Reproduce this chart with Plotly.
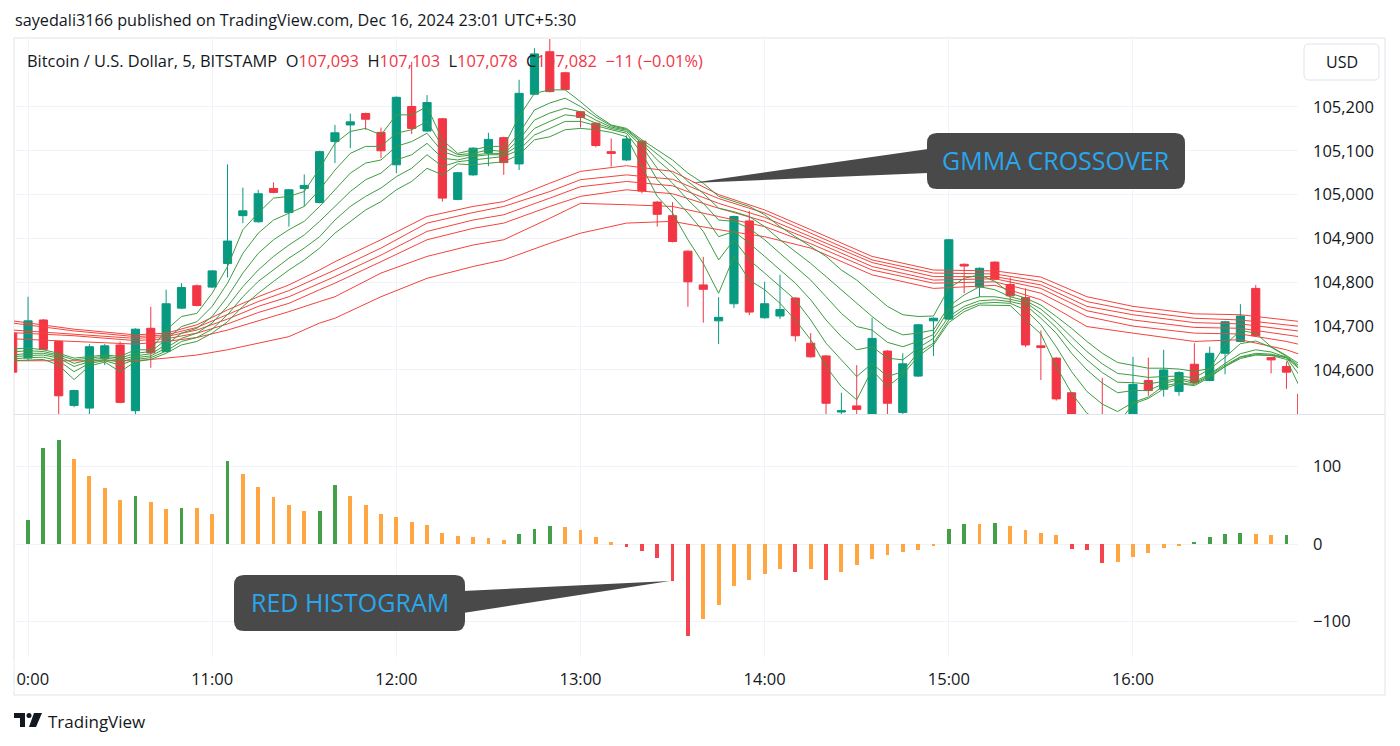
import plotly.graph_objects as go
import pandas as pd

# ---------------- data ----------------
times = pd.date_range("2024-12-16 09:55", periods=85, freq="5min")

open_p = [104684, 104627, 104714, 104665, 104519, 104513, 104627, 104657, 104507, 104695,
          104642, 104741, 104792, 104789, 104843, 104952, 104938, 105014, 104959, 105014,
          104982, 105121, 105159, 105185, 105142, 105068, 105201, 105145, 105173, 104989,
          105045, 105096, 105130, 105070, 105229, 105326, 105278, 105189, 105163, 105098,
          105079, 105122, 104983, 104952, 104871, 104794, 104712, 104751, 104940, 104719,
          104723, 104764, 104661, 104632, 104504, 104518, 104490, 104643, 104503, 104586,
          104712, 104716, 104841, 104789, 104846, 104795, 104765, 104655, 104627, 104548,
          104470, 104470, 104430, 104475, 104576, 104556, 104551, 104613, 104576, 104638,
          104665, 104786, 104628, 104608, 104545]
high_p = [104690, 104767, 104716, 104667, 104555, 104659, 104659, 104665, 104695, 104744,
          104783, 104798, 104795, 104828, 105069, 105016, 105011, 105028, 105013, 105046,
          105100, 105159, 105185, 105187, 105153, 105224, 105303, 105227, 105175, 105052,
          105108, 105141, 105132, 105262, 105334, 105370, 105280, 105191, 105165, 105128,
          105135, 105124, 104985, 104983, 104873, 104858, 104766, 104952, 104963, 104801,
          104817, 104766, 104684, 104634, 104548, 104611, 104719, 104645, 104638, 104705,
          104720, 104899, 104843, 104834, 104848, 104811, 104786, 104690, 104629, 104550,
          104490, 104582, 104490, 104630, 104628, 104646, 104597, 104661, 104653, 104712,
          104750, 104794, 104630, 104619, 104547]
low_p = [104590, 104622, 104645, 104495, 104515, 104498, 104611, 104524, 104498, 104605,
         104640, 104739, 104745, 104787, 104811, 104935, 104936, 105003, 104927, 104973,
         104980, 105072, 105106, 105148, 105083, 105049, 105138, 105143, 104984, 104987,
         105043, 105065, 105045, 105056, 105227, 105233, 105238, 105153, 105108, 105064,
         105077, 105003, 104927, 104891, 104744, 104708, 104659, 104741, 104725, 104717,
         104716, 104665, 104628, 104495, 104495, 104495, 104485, 104490, 104498, 104584,
         104632, 104714, 104775, 104766, 104805, 104753, 104652, 104577, 104530, 104460,
         104420, 104410, 104410, 104470, 104541, 104539, 104541, 104569, 104574, 104590,
         104663, 104676, 104592, 104557, 104470]
close_p = [104595, 104712, 104647, 104541, 104553, 104653, 104655, 104526, 104693, 104639,
           104751, 104788, 104747, 104826, 104894, 104963, 105002, 105005, 105011, 105021,
           105098, 105141, 105166, 105172, 105100, 105222, 105151, 105210, 104992, 105050,
           105106, 105126, 105073, 105231, 105321, 105235, 105240, 105176, 105112, 105094,
           105127, 105008, 104955, 104893, 104801, 104784, 104720, 104950, 104732, 104751,
           104738, 104678, 104630, 104524, 104507, 104510, 104672, 104524, 104614, 104703,
           104718, 104897, 104837, 104832, 104807, 104769, 104657, 104651, 104534, 104470,
           104440, 104430, 104470, 104567, 104553, 104600, 104594, 104571, 104638, 104710,
           104723, 104678, 104623, 104595, 104480]

# short-term GMMA ribbon (green), listed top to bottom, one value per bar
gmma_short_1 = [104648, 104650, 104646, 104638, 104627, 104631, 104634, 104631, 104646, 104646,
                104691, 104722, 104729, 104775, 104836, 104920, 104958, 104992, 104996, 105007,
                105060, 105117, 105144, 105151, 105136, 105182, 105182, 105201, 105125, 105094,
                105102, 105110, 105110, 105178, 105231, 105239, 105239, 105212, 105182, 105159,
                105151, 105125, 105102, 105079, 105049, 105026, 104996, 104984, 104973, 104954,
                104927, 104904, 104882, 104859, 104828, 104805, 104775, 104745, 104726, 104722,
                104723, 104786, 104809, 104817, 104802, 104775, 104764, 104748, 104722, 104695,
                104665, 104638, 104617, 104611, 104604, 104604, 104602, 104597, 104603, 104657,
                104690, 104684, 104653, 104633, 104610]
gmma_short_2 = [104641, 104644, 104642, 104634, 104623, 104627, 104631, 104627, 104638, 104642,
                104669, 104699, 104710, 104745, 104798, 104866, 104912, 104942, 104958, 104973,
                105011, 105056, 105094, 105110, 105110, 105140, 105148, 105167, 105110, 105091,
                105094, 105102, 105098, 105140, 105193, 105209, 105220, 105201, 105177, 105157,
                105149, 105121, 105091, 105064, 105030, 105003, 104969, 104961, 104950, 104927,
                104897, 104870, 104843, 104813, 104783, 104752, 104722, 104695, 104680, 104684,
                104691, 104745, 104771, 104790, 104783, 104767, 104758, 104739, 104709, 104675,
                104642, 104614, 104592, 104588, 104583, 104585, 104586, 104582, 104602, 104629,
                104660, 104666, 104652, 104631, 104605]
gmma_short_3 = [104634, 104638, 104638, 104631, 104615, 104623, 104627, 104623, 104632, 104637,
                104657, 104684, 104695, 104722, 104767, 104821, 104866, 104897, 104920, 104939,
                104973, 105011, 105049, 105072, 105079, 105110, 105121, 105140, 105098, 105087,
                105091, 105094, 105094, 105125, 105170, 105186, 105197, 105189, 105170, 105154,
                105147, 105117, 105079, 105049, 105011, 104980, 104942, 104939, 104923, 104897,
                104866, 104836, 104805, 104767, 104729, 104699, 104691, 104663, 104653, 104665,
                104681, 104737, 104756, 104767, 104767, 104761, 104754, 104729, 104697, 104657,
                104623, 104594, 104572, 104571, 104568, 104574, 104581, 104574, 104590, 104615,
                104637, 104646, 104641, 104629, 104601]
gmma_short_4 = [104630, 104633, 104634, 104627, 104608, 104619, 104624, 104618, 104628, 104632,
                104650, 104672, 104684, 104707, 104745, 104790, 104828, 104859, 104885, 104908,
                104939, 104973, 105007, 105034, 105049, 105079, 105091, 105117, 105083, 105079,
                105087, 105091, 105091, 105113, 105151, 105167, 105182, 105178, 105163, 105151,
                105144, 105110, 105060, 105026, 104988, 104954, 104904, 104916, 104889, 104859,
                104828, 104798, 104760, 104714, 104676, 104646, 104653, 104627, 104623, 104650,
                104672, 104722, 104745, 104758, 104760, 104756, 104748, 104718, 104684, 104638,
                104600, 104570, 104548, 104553, 104553, 104569, 104578, 104569, 104589, 104611,
                104630, 104638, 104636, 104628, 104597]
gmma_short_5 = [104625, 104628, 104629, 104621, 104596, 104615, 104621, 104611, 104624, 104628,
                104643, 104665, 104674, 104693, 104726, 104767, 104802, 104828, 104855, 104878,
                104904, 104942, 104973, 104996, 105015, 105041, 105060, 105091, 105064, 105075,
                105079, 105083, 105087, 105102, 105136, 105151, 105167, 105167, 105157, 105148,
                105140, 105094, 105034, 104996, 104958, 104916, 104851, 104897, 104851, 104821,
                104790, 104760, 104714, 104661, 104623, 104585, 104615, 104585, 104596, 104640,
                104661, 104714, 104739, 104752, 104754, 104752, 104737, 104703, 104653, 104596,
                104551, 104522, 104505, 104526, 104538, 104564, 104570, 104567, 104586, 104608,
                104629, 104635, 104634, 104628, 104581]
gmma_short_6 = [104621, 104623, 104624, 104611, 104578, 104609, 104618, 104596, 104619, 104624,
                104638, 104657, 104665, 104684, 104710, 104745, 104775, 104802, 104828, 104851,
                104878, 104912, 104939, 104965, 104984, 105011, 105030, 105060, 105045, 105070,
                105068, 105072, 105075, 105091, 105125, 105132, 105148, 105151, 105148, 105142,
                105132, 105064, 104996, 104958, 104897, 104843, 104775, 104859, 104805, 104783,
                104752, 104714, 104669, 104608, 104562, 104532, 104600, 104562, 104589, 104631,
                104657, 104708, 104733, 104748, 104748, 104747, 104714, 104682, 104608, 104547,
                104501, 104482, 104477, 104522, 104535, 104557, 104569, 104564, 104583, 104608,
                104626, 104634, 104633, 104624, 104551]

# long-term GMMA ribbon (red), read at these bar numbers, listed top to bottom
long_bars = [0, 4, 8, 10, 12, 14, 16, 18, 20, 21, 24, 27, 30, 32, 35, 37, 40, 43, 46, 49,
             52, 56, 60, 64, 67, 70, 73, 77, 80, 83, 84]
gmma_long_1 = [104712, 104693, 104680, 104684, 104703, 104737, 104767, 104794, 104828, 104847,
               104897, 104950, 104973, 104984, 105026, 105053, 105066, 105053, 105000, 104965,
               104920, 104859, 104828, 104826, 104812, 104767, 104745, 104728, 104726, 104714, 104710]
gmma_long_2 = [104707, 104689, 104676, 104680, 104697, 104727, 104756, 104781, 104813, 104828,
               104878, 104935, 104959, 104973, 105007, 105034, 105045, 105035, 104991, 104958,
               104912, 104851, 104821, 104819, 104802, 104756, 104735, 104718, 104714, 104703, 104699]
gmma_long_3 = [104691, 104682, 104672, 104676, 104691, 104716, 104745, 104767, 104798, 104813,
               104862, 104916, 104942, 104954, 104992, 105018, 105030, 105020, 104980, 104948,
               104904, 104845, 104813, 104813, 104794, 104745, 104726, 104708, 104705, 104691, 104688]
gmma_long_4 = [104685, 104678, 104667, 104671, 104684, 104705, 104731, 104752, 104783, 104798,
               104847, 104897, 104923, 104935, 104973, 104996, 105011, 105002, 104969, 104939,
               104897, 104836, 104805, 104808, 104786, 104735, 104714, 104697, 104695, 104680, 104675]
gmma_long_5 = [104671, 104665, 104659, 104665, 104674, 104691, 104712, 104733, 104756, 104767,
               104821, 104859, 104885, 104897, 104946, 104980, 104977, 104973, 104950, 104927,
               104888, 104828, 104798, 104801, 104775, 104722, 104700, 104684, 104682, 104665, 104657]
gmma_long_6 = [104621, 104621, 104621, 104627, 104634, 104646, 104661, 104676, 104707, 104718,
               104767, 104809, 104836, 104851, 104889, 104912, 104935, 104939, 104920, 104904,
               104878, 104817, 104786, 104793, 104760, 104699, 104684, 104665, 104669, 104646, 104634]

# oscillator histogram, bars 1..83
hist_vals = [31.4, 123.9, 134.6, 109.7, 88.2, 72.3, 57.2, 62.4, 53.8, 45.6,
             46.5, 46.0, 39.1, 107.5, 90.8, 73.1, 60.2, 50.8, 42.2, 42.8,
             76.6, 62.4, 50.3, 39.1, 34.4, 28.4, 24.9, 14.2, 10.8, 9.5,
             7.3, 5.6, 12.9, 18.9, 23.7, 22.4, 17.6, 9.5, 2.2, -3.9,
             -9.5, -18.1, -48.2, -119.1, -96.3, -79.1, -54.6, -46.5, -39.1, -32.3,
             -36.6, -32.7, -46.0, -36.6, -27.5, -19.8, -14.6, -10.8, -7.3, -3.0,
             19.8, 26.2, 25.8, 27.1, 23.7, 18.5, 14.6, 11.2, -6.0, -7.3,
             -24.5, -23.2, -16.8, -12.0, -4.7, -1.7, 2.6, 9.0, 12.5, 13.8,
             12.5, 11.2, 11.5]
hist_times = times[1:84]

price_ticks = [104600, 104700, 104800, 104900, 105000, 105100, 105200]
hist_ticks = [-100, 0, 100]
hour_ticks = pd.date_range("2024-12-16 10:00", "2024-12-16 16:00", freq="1h")

# ---------------- styles ----------------
UP, DOWN = "#089981", "#f23645"
GREEN_LINE, RED_LINE = "#3f9c41", "#f4433c"
H_GREEN, H_ORANGE, H_RED = "#43a047", "#ffa641", "#f5444e"
GRID = "#f0f3fa"
TXT = "#131722"
FONT = "Open Sans"
W, H = 1400, 746


def px(x):
    return x / W


def py(y):
    return 1 - y / H


hist_colors = []
prev = None
for v in hist_vals:
    rising = prev is None or v >= prev
    if rising:
        hist_colors.append(H_GREEN if v > 0 else H_ORANGE)
    else:
        hist_colors.append(H_ORANGE if v > 0 else H_RED)
    prev = v

fig = go.Figure()

fig.add_trace(go.Candlestick(
    x=times, open=open_p, high=high_p, low=low_p, close=close_p,
    increasing=dict(line=dict(color=UP, width=1), fillcolor=UP),
    decreasing=dict(line=dict(color=DOWN, width=1), fillcolor=DOWN),
    whiskerwidth=0, xaxis="x", yaxis="y", showlegend=False, hoverinfo="skip"))

long_times = [times[i] for i in long_bars]
for series in [gmma_long_1, gmma_long_2, gmma_long_3, gmma_long_4, gmma_long_5, gmma_long_6]:
    fig.add_trace(go.Scatter(x=long_times, y=series, mode="lines",
                             line=dict(color=RED_LINE, width=1), xaxis="x", yaxis="y",
                             showlegend=False, hoverinfo="skip"))
for series in [gmma_short_1, gmma_short_2, gmma_short_3, gmma_short_4, gmma_short_5, gmma_short_6]:
    fig.add_trace(go.Scatter(x=times, y=series, mode="lines",
                             line=dict(color=GREEN_LINE, width=1), xaxis="x", yaxis="y",
                             showlegend=False, hoverinfo="skip"))

fig.add_trace(go.Bar(x=hist_times, y=hist_vals, marker=dict(color=hist_colors, line=dict(width=0)),
                     width=75000, xaxis="x2", yaxis="y2", showlegend=False, hoverinfo="skip"))

x_range = [pd.Timestamp("2024-12-16 09:55:26"), pd.Timestamp("2024-12-16 16:53:46")]
x_dom = [px(14), px(1298)]

fig.update_layout(
    width=W, height=H, margin=dict(l=0, r=0, t=0, b=0, autoexpand=False),
    paper_bgcolor="white", plot_bgcolor="white", showlegend=False,
    font=dict(family=FONT, color=TXT, size=14),
    boxgap=0.24, bargap=0,
    xaxis=dict(domain=x_dom, anchor="y", range=x_range, type="date", automargin=False,
               showticklabels=False, tickvals=hour_ticks, showgrid=True, gridcolor=GRID,
               zeroline=False, rangeslider=dict(visible=False), showline=False, fixedrange=True),
    xaxis2=dict(domain=x_dom, anchor="y2", matches="x", range=x_range, type="date", automargin=False,
                tickvals=hour_ticks, tickformat="%H:%M", showgrid=True, gridcolor=GRID,
                zeroline=False, showline=False, ticks="", ticklabelstandoff=10,
                tickfont=dict(size=16.5, color=TXT)),
    yaxis=dict(domain=[py(414), py(39)], anchor="x", side="right", range=[104499.5, 105355],
               automargin=False, tickvals=price_ticks, tickformat=",d", showgrid=True, gridcolor=GRID,
               zeroline=False, ticks="", ticklabelstandoff=14, tickfont=dict(size=16.5, color=TXT)),
    yaxis2=dict(domain=[py(657), py(415)], anchor="x2", side="right", range=[-145.8, 166.5],
                automargin=False, tickvals=hist_ticks, showgrid=True, gridcolor=GRID, zeroline=False,
                ticks="", ticklabelstandoff=14, tickfont=dict(size=16.5, color=TXT)),
)

shapes = []
# chart frame and pane separator
shapes.append(dict(type="rect", xref="paper", yref="paper", x0=px(14), x1=px(1385),
                   y0=py(695), y1=py(38), line=dict(color="#e0e3eb", width=1), layer="below"))
shapes.append(dict(type="line", xref="paper", yref="paper", x0=px(14), x1=px(1385),
                   y0=py(414.5), y1=py(414.5), line=dict(color="#e0e3eb", width=1)))
# USD box
shapes.append(dict(type="path", xref="paper", yref="paper",
                   path=(f"M {px(1309)} {py(44)} L {px(1374)} {py(44)} Q {px(1379)} {py(44)} {px(1379)} {py(49)} "
                         f"L {px(1379)} {py(75)} Q {px(1379)} {py(80)} {px(1374)} {py(80)} "
                         f"L {px(1309)} {py(80)} Q {px(1304)} {py(80)} {px(1304)} {py(75)} "
                         f"L {px(1304)} {py(49)} Q {px(1304)} {py(44)} {px(1309)} {py(44)} Z"),
                   line=dict(color="#e0e3eb", width=1), fillcolor="white"))
# cover clipped part of first time label
shapes.append(dict(type="rect", xref="paper", yref="paper", x0=0, x1=px(13.5),
                   y0=py(692), y1=py(660), line=dict(width=0), fillcolor="white", layer="above"))


def rounded_box(x0, y0, x1, y1, r):
    return (f"M {px(x0 + r)} {py(y0)} L {px(x1 - r)} {py(y0)} Q {px(x1)} {py(y0)} {px(x1)} {py(y0 + r)} "
            f"L {px(x1)} {py(y1 - r)} Q {px(x1)} {py(y1)} {px(x1 - r)} {py(y1)} "
            f"L {px(x0 + r)} {py(y1)} Q {px(x0)} {py(y1)} {px(x0)} {py(y1 - r)} "
            f"L {px(x0)} {py(y0 + r)} Q {px(x0)} {py(y0)} {px(x0 + r)} {py(y0)} Z")


BOX = "#494949"
# GMMA crossover callout
shapes.append(dict(type="path", xref="paper", yref="paper",
                   path=f"M {px(928)} {py(149)} L {px(691)} {py(183)} L {px(928)} {py(173)} Z",
                   fillcolor=BOX, line=dict(width=0)))
shapes.append(dict(type="path", xref="paper", yref="paper", path=rounded_box(927, 133, 1185, 189, 10),
                   fillcolor=BOX, line=dict(width=0)))
# red histogram callout
shapes.append(dict(type="path", xref="paper", yref="paper",
                   path=f"M {px(463)} {py(591)} L {px(670)} {py(581)} L {px(463)} {py(613)} Z",
                   fillcolor=BOX, line=dict(width=0)))
shapes.append(dict(type="path", xref="paper", yref="paper", path=rounded_box(234, 575, 465, 631, 10),
                   fillcolor=BOX, line=dict(width=0)))
# TradingView logo
shapes.append(dict(type="path", xref="paper", yref="paper",
                   path=(f"M {px(14)} {py(713)} L {px(25)} {py(713)} L {px(25)} {py(727)} L {px(20)} {py(727)} "
                         f"L {px(20)} {py(718)} L {px(14)} {py(718)} Z"),
                   fillcolor=TXT, line=dict(width=0)))
shapes.append(dict(type="circle", xref="paper", yref="paper", x0=px(26.5), x1=px(31.5),
                   y0=py(718), y1=py(713), fillcolor=TXT, line=dict(width=0)))
shapes.append(dict(type="path", xref="paper", yref="paper",
                   path=f"M {px(34)} {py(713)} L {px(42)} {py(713)} L {px(36)} {py(727)} L {px(29)} {py(727)} Z",
                   fillcolor=TXT, line=dict(width=0)))

fig.update_layout(shapes=shapes)

R = "#f23645"
nb = "\u00a0"
legend_txt = (f"Bitcoin / U.S. Dollar, 5, BITSTAMP{nb}{nb}O<span style='color:{R}'>107,093</span>"
              f"{nb}{nb}H<span style='color:{R}'>107,103</span>"
              f"{nb}{nb}L<span style='color:{R}'>107,078</span>"
              f"{nb}{nb}C<span style='color:{R}'>107,082</span>"
              f"{nb}{nb}<span style='color:{R}'>\u221211 (\u22120.01%)</span>")

annotations = [
    dict(text="sayedali3166 published on TradingView.com, Dec 16, 2024 23:01 UTC+5:30",
         x=px(13), y=py(20), xref="paper", yref="paper", xanchor="left", yanchor="middle",
         showarrow=False, font=dict(size=16.2, color=TXT, family=FONT)),
    dict(text=legend_txt, x=px(25), y=py(61), xref="paper", yref="paper", xanchor="left",
         yanchor="middle", showarrow=False, font=dict(size=16.4, color=TXT, family=FONT)),
    dict(text="USD", x=px(1341.5), y=py(62), xref="paper", yref="paper", xanchor="center",
         yanchor="middle", showarrow=False, font=dict(size=16, color=TXT, family=FONT)),
    dict(text="GMMA CROSSOVER", x=px(1056), y=py(160), xref="paper", yref="paper", xanchor="center",
         yanchor="middle", showarrow=False, font=dict(size=25, color="#29a6ec", family=FONT)),
    dict(text="RED HISTOGRAM", x=px(350), y=py(602), xref="paper", yref="paper", xanchor="center",
         yanchor="middle", showarrow=False, font=dict(size=25, color="#29a6ec", family=FONT)),
    dict(text="TradingView", x=px(46), y=py(721), xref="paper", yref="paper", xanchor="left",
         yanchor="middle", showarrow=False, font=dict(size=17, color=TXT, family=FONT)),
]
fig.update_layout(annotations=annotations)

fig.write_html("out.html")
